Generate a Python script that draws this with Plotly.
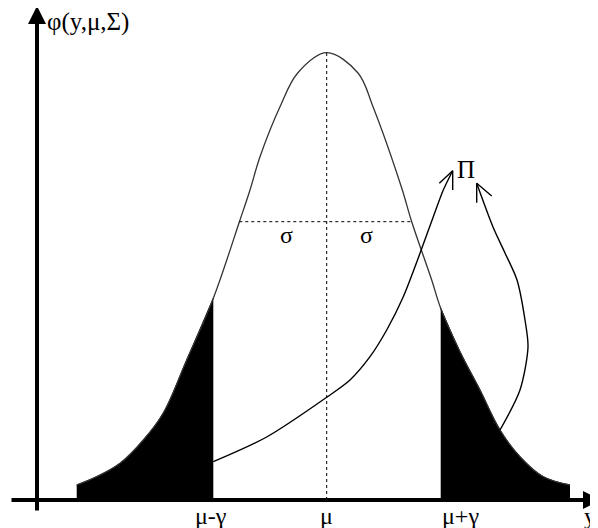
import plotly.graph_objects as go

# density curve (x position, height above the y axis baseline)
curve_x = [76.7, 96.7, 120, 143.3, 163.3, 186.7, 213.3, 240, 250, 260, 280, 297.7, 326.7,
           358, 373, 401.7, 411.7, 431.7, 440.7, 460, 480, 500, 520, 543.3, 570]
curve_y = [15, 23.3, 36.7, 60, 87, 140, 201.7, 280, 310, 343.3, 393.3, 427, 447.3,
           427, 393.3, 312, 278.3, 220, 191.7, 148.3, 110, 70, 43.3, 23.3, 15]

mu = 326.7
peak = 447.3
lower, upper = 213.3, 440.7           # mu - gamma, mu + gamma
sigma_left, sigma_right, sigma_h = 239.3, 411.7, 278.3

# the two arrows pointing at Pi
arrow1_x = [213.3, 266.7, 326.7, 350, 370, 386.7, 403.3, 420, 433.3, 443.3, 452.7]
arrow1_y = [38.3, 63, 102.7, 120, 143.3, 170, 203.3, 246.7, 283.3, 310, 329.3]
head1_x = [439.3, 452.7, 452.7]
head1_y = [316.7, 329.3, 310]

arrow2_x = [500, 520, 528, 525, 517, 505, 493, 476.7]
arrow2_y = [70, 110, 153, 180, 220, 247, 273, 316.7]
head2_x = [491.7, 476.7, 476.7]
head2_y = [304, 316.7, 297.3]

x_labels = ["\u03bc-\u03b3", "\u03bc", "\u03bc+\u03b3"]
x_label_pos = [211, 326.7, 460]

FONT = "Liberation Serif, Times New Roman, serif"

fig = go.Figure()

# shaded tails
left_x = [x for x in curve_x if x <= lower]
left_y = [y for x, y in zip(curve_x, curve_y) if x <= lower]
right_x = [x for x in curve_x if x >= upper]
right_y = [y for x, y in zip(curve_x, curve_y) if x >= upper]
for tx, ty in [(left_x, left_y), (right_x, right_y)]:
    fig.add_trace(go.Scatter(x=tx, y=ty, mode="lines", fill="tozeroy",
                             fillcolor="black", line=dict(color="black", width=1, shape="spline")))

# the curve itself
fig.add_trace(go.Scatter(x=curve_x, y=curve_y, mode="lines",
                         line=dict(color="#333333", width=1.3, shape="spline")))

# dotted mean and sigma lines
fig.add_trace(go.Scatter(x=[mu, mu], y=[0, peak], mode="lines",
                         line=dict(color="black", width=1, dash="dot")))
fig.add_trace(go.Scatter(x=[sigma_left, sigma_right], y=[sigma_h, sigma_h], mode="lines",
                         line=dict(color="black", width=1, dash="dot")))

# arrows
for ax_, ay_ in [(arrow1_x, arrow1_y), (arrow2_x, arrow2_y)]:
    fig.add_trace(go.Scatter(x=ax_, y=ay_, mode="lines",
                             line=dict(color="black", width=1.4, shape="spline", smoothing=0.8)))
for hx, hy in [(head1_x, head1_y), (head2_x, head2_y)]:
    fig.add_trace(go.Scatter(x=hx, y=hy, mode="lines", line=dict(color="black", width=1.4)))

# axes drawn as arrows
fig.add_annotation(x=37, y=494, ax=37, ay=-12, axref="x", ayref="y", text="",
                   showarrow=True, arrowhead=2, arrowwidth=4, arrowsize=0.9,
                   arrowcolor="black", standoff=0)
fig.add_annotation(x=601, y=0, ax=10, ay=0, axref="x", ayref="y", text="",
                   showarrow=True, arrowhead=2, arrowwidth=4, arrowsize=0.9,
                   arrowcolor="black", standoff=0)

txt = dict(family=FONT, size=24, color="black")
fig.add_annotation(x=45, y=478, text="\u03c6(y,\u03bc,\u03a3)", showarrow=False,
                   xanchor="left", font=dict(family=FONT, size=25, color="black"))
for lab, pos in zip(x_labels, x_label_pos):
    fig.add_annotation(x=pos, y=-16, text=lab, showarrow=False, font=txt)
fig.add_annotation(x=590, y=-16, text="y", showarrow=False, font=txt)
fig.add_annotation(x=286.7, y=265, text="\u03c3", showarrow=False, font=txt)
fig.add_annotation(x=366.7, y=265, text="\u03c3", showarrow=False, font=txt)
fig.add_annotation(x=466, y=331, text="\u03a0", showarrow=False, font=dict(family=FONT, size=25, color="black"))

# the page body adds an 8px margin, so the ranges are shifted to keep the
# picture where it sits in the original
fig.update_layout(
    width=598, height=528,
    margin=dict(l=0, r=0, t=0, b=0),
    showlegend=False,
    plot_bgcolor="white", paper_bgcolor="white",
    xaxis=dict(range=[8, 606], visible=False, fixedrange=True),
    yaxis=dict(range=[-36, 492], visible=False, fixedrange=True),
)

fig.write_html("out.html")
